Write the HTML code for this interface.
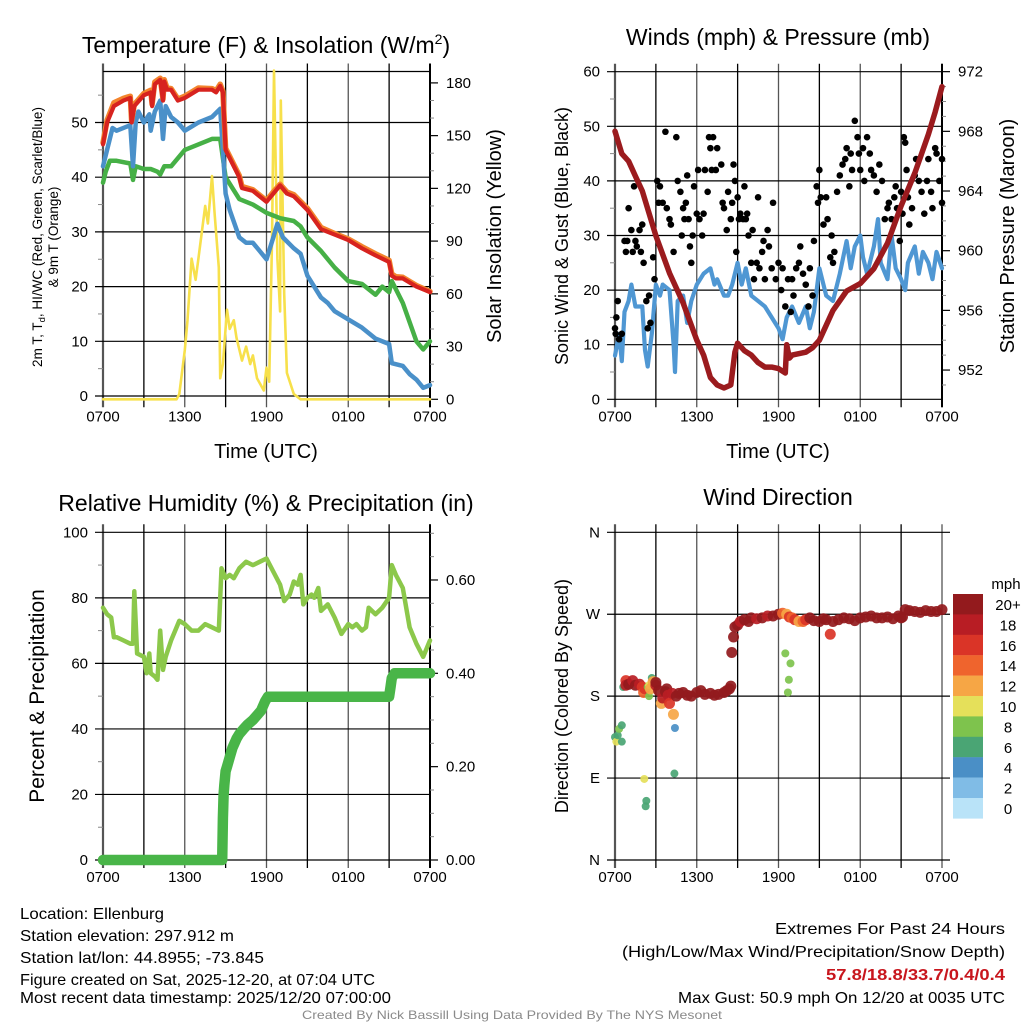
<!DOCTYPE html>
<html><head><meta charset="utf-8"><style>
html,body{margin:0;padding:0;background:#fff;}
svg{display:block;font-family:"Liberation Sans",Arial,sans-serif;}
</style></head><body>
<svg id="c" width="1024" height="1024" viewBox="0 0 1024 1024" xmlns="http://www.w3.org/2000/svg"></svg>
<script>
// ---------- data (hours since 0700 UTC) ----------
const xTickLabels = ["0700","1300","1900","0100","0700"];
const tempH   = [0,0.3,0.8,1.5,2.0,2.1,2.3,3,3.5,3.6,3.8,4.2,4.4,4.5,4.7,5,5.5,6,7,8,8.3,8.6,8.8,9,9.5,10,10.2,11,12,12.5,13,13.5,14,15,16,17,18,19,20,21,21.2,21.5,22,23,24];
const tempRed = [46,50,53,54,54.5,50,53,55,55.5,53,57,57.8,54,57.5,56,56,54,54.5,56,56,55.5,56.7,55.5,45,42.5,40,38,37.5,35.5,37,38.5,37,36.5,34,30.5,29.5,28.5,27,25.7,24.5,22,21.5,21.5,20,19];
const temp9m  = [46.3,50.4,53.6,54.4,54.8,50.3,53.3,55.3,55.9,53.3,57.4,58.1,54.3,57.8,56.3,56.2,54.3,54.8,56.3,56.2,55.8,57,55.7,45.3,42.8,40.3,38.3,37.7,35.7,37.3,38.7,37.3,36.8,34.3,30.8,29.7,28.7,27.3,26,24.8,22.3,21.8,21.7,20.2,19.1];
const dewH    = [0,0.5,0.7,1,2,2.2,2.4,2.6,3,3.4,3.5,3.8,4.2,4.4,4.6,5,5.5,6,7,8,8.6,8.8,9,9.3,10,10.5,11,11.5,12,12.5,12.8,13.2,14,14.5,15,16,16.5,17,18,19,20,21,21.2,22,22.5,23,23.5,24];
const dewBlue = [42,47,49,48.5,49.5,42,50,52,50,51.5,48.5,52,54,47,53,51,50,48.5,50,51,52.5,45,37,34,29,28,28,26.5,25,29,31.5,29,27,26,22,18,17,15.5,14,12.5,10.5,9.5,6,5.5,4,3,1.5,2];
const hiwcH   = [0,0.2,0.5,1,2,2.2,2.4,3,3.5,4,4.2,4.5,5,6,7,8,8.6,9,9.5,10,11,12,12.5,13,14,14.5,15,16,17,18,19,20,20.5,21,21.2,21.5,22,23,23.5,24];
const hiwcGreen=[39,41,43,43,42.5,39.5,42,41.5,41.5,41,40.5,42,42,45,46,47,47,40,38,36,35,33.5,33,32.5,32,31,29,26.5,23.5,21,20.5,18.5,20,19,21,19.5,17,10,8.5,10];
const solarH  = [0,5.4,5.6,6,6.2,6.5,6.8,7,7.5,7.7,8,8.2,8.5,8.6,8.8,9.1,9.3,9.6,9.8,10.2,10.5,10.8,11,11.3,11.8,12,12.2,12.4,12.55,12.8,13,13.05,13.3,13.5,14,14.5,24];
const solarVal= [0,0,3,28,45,80,68,80,110,100,127,105,75,12,20,51,40,45,35,22,30,20,25,12,5,18,10,90,187,80,50,170,60,15,3,0,0];

const presH   = [0,0.5,1,1.5,2,3,4,5,6,6.5,7,7.5,8,8.5,8.8,9,9.5,10,10.5,11,11.5,12,12.5,12.6,12.8,13,14,14.5,15,15.5,16,17,18,19,20,21,22,23,23.5,24];
const presVal = [968,966.5,966,965,964,961,958.5,956.5,954,953,951.5,951,950.8,951,953.2,953.8,953.3,953,952.5,952.2,952.2,952.1,951.8,953.7,952.8,953,953.2,953.5,954,955,956,957.3,957.8,958.8,960.5,963,965.2,967.8,969.3,971];
const windH   = [0,0.3,0.5,0.7,1,1.2,1.5,2,2.2,2.4,2.7,3,3.3,3.5,4,4.3,4.4,4.6,5,5.3,5.6,6,6.5,7,7.3,7.5,8,8.3,8.6,9,9.3,9.6,10,10.5,11,11.5,12,12.3,12.6,13,13.5,14,14.3,14.6,15,15.5,16,16.5,17,17.3,17.6,18,18.2,18.5,19,19.3,19.5,20,20.3,20.6,21,21.3,21.5,22,22.3,22.6,23,23.3,23.6,24];
const windVal = [8,12,7,16,18,21,17,17,9,6,12,21,19,21,20,10,5,18,19,14,18,21,23,24,21,22,19,19,21,25,21,24,19,18,17,15,13,11,15,17,14,17,13,16,24,19,18,23,29,24,28,30,26,23,28,33,25,22,30,24,22,20,25,28,23,27,25,22,27,24];
const gustH   = [0,0.05,0.1,0.2,0.3,0.5,0.7,0.8,0.9,1,1.2,1.3,1.4,1.5,1.6,1.8,1.9,2,2.1,2.3,2.4,2.5,2.6,2.8,2.9,3.1,3.2,3.3,3.5,3.7,3.8,4,4.1,4.3,4.5,4.6,4.8,4.9,5,5.1,5.2,5.3,5.4,5.5,5.6,5.7,5.8,6,6.1,6.2,6.4,6.5,6.6,6.8,6.9,7,7.1,7.2,7.4,7.5,7.8,7.9,8,8.2,8.3,8.5,8.6,8.7,8.8,8.9,9,9.1,9.2,9.4,9.5,9.6,9.7,9.8,10,10.1,10.2,10.4,10.5,10.6,10.8,10.9,11,11.2,11.3,11.5,11.6,11.8,12,12.2,12.3,12.5,12.7,12.9,13,13.1,13.3,13.5,13.6,13.8,14,14.2,14.3,14.5,14.6,14.8,14.9,15,15.1,15.3,15.5,15.6,15.8,15.9,16,16.1,16.3,16.5,16.7,16.9,17,17.2,17.3,17.4,17.6,17.8,17.9,18,18.2,18.3,18.5,18.7,18.8,19,19.2,19.4,19.6,19.8,20,20.1,20.3,20.5,20.6,20.7,20.9,21,21.1,21.2,21.3,21.4,21.5,21.6,21.8,22,22.1,22.3,22.5,22.7,22.9,23,23.2,23.3,23.5,23.6,23.8,24,24];
const gustVal = [13,12,15,18,11,12,29,27,29,35,31,27,39,29,28,31,27,32,25,18,13,19,14,26,22,40,36,39,36,49,35,33,32,27,48,40,38,30,35,33,36,41,33,28,25,30,39,34,42,33,30,34,42,38,48,46,42,48,42,46,43,36,35,31,38,33,36,43,40,27,37,33,34,33,39,33,34,30,25,31,22,25,37,24,27,29,22,31,28,24,36,22,25,20,24,17,22,16,22,19,24,25,28,23,21,17,24,19,29,39,36,42,37,32,37,33,26,30,25,27,38,41,43,44,46,39,45,42,51,48,45,42,46,40,48,45,42,41,38,43,40,33,35,36,33,37,39,35,29,38,34,48,47,42,37,32,35,41,44,40,38,34,40,44,38,35,46,45,40,44,36];

const rhH     = [0,0.3,0.6,0.8,1,1.5,2,2.2,2.3,2.5,3,3.2,3.4,3.5,3.8,4,4.2,4.4,4.6,5,5.3,5.6,6,6.5,7,7.5,8,8.5,8.7,9,9.3,9.6,10,10.5,11,11.5,12,12.5,13,13.3,13.7,14,14.3,14.5,14.7,15,15.3,15.5,15.8,16,16.5,17,17.5,18,18.3,18.6,19,19.3,19.5,20,20.5,21,21.2,21.5,22,22.5,23,23.5,24];
const rhVal   = [77,75,74,68,68,67,66,66,82,63,62,57,63,57,56,55,70,58,62,67,70,73,72,70,70,72,71,70,89,86,87,86,89,91,90,91,92,88,84,79,81,85,84,87,78,80,81,80,83,76,78,74,69,72,71,72,70,71,77,75,77,80,90,87,83,71,66,62,67];
const precipH = [0,8.75,8.8,8.85,8.9,9,9.1,9.3,9.5,9.8,10,10.3,10.6,11,11.3,11.6,11.9,12.1,21,21.1,21.2,21.4,24];
const precipVal=[0,0,0.09,0.14,0.16,0.19,0.2,0.22,0.24,0.26,0.27,0.28,0.29,0.30,0.31,0.32,0.34,0.35,0.35,0.37,0.39,0.40,0.40];

const dirH    = [0,0.1,0.2,0.3,0.5,0.5,0.6,0.8,0.8,1,1.3,1.5,1.8,2,2.1,2.2,2.15,2.4,2.25,2.3,2.5,2.5,2.6,2.7,2.8,3,3,3.2,3.4,3.5,3.7,3.8,3.9,4,4.2,4.29,4.4,4.36,4.5,4.7,5,5.3,5.6,6,6.3,6.6,7,7.3,7.6,8,8.2,8.4,8.5,8.57,8.7,8.8,9,9.2,9.5,9.8,10,10.4,10.8,11.2,11.6,12,12.3,12.6,12.69,12.76,12.88,12.5,12.8,13,13.2,13.5,13.8,14,14.3,14.6,15,15.3,15.5,15.8,16,16.4,16.8,17.2,17.6,18,18.4,18.8,19.2,19.6,20,20.4,20.8,21,21.1,21.3,21.6,22,22.4,22.8,23.2,23.6,24];
const dirVal  = [135,130,137,144,148,130,190,197,192,193,197,192,193,190,184,188,89,190,59,65,180,192,188,200,196,192,195,186,172,178,185,188,181,172,183,160,145,95,180,183,184,181,180,184,186,182,183,181,182,184,186,188,191,228,245,256,258,262,264,262,266,265,266,268,268,270,271,270,184,198,216,227,267,266,264,262,262,264,266,263,262,265,264,248,262,264,266,265,263,266,267,268,266,266,267,265,268,266,267,275,274,273,272,274,273,273,275,274,273];
const dirSpd  = [7,10,6,8,6,6,6,16,18,20,18,20,18,16,14,16,10,8,6,6,8,10,12,6,12,18,20,20,12,18,20,20,18,16,18,12,4,6,20,20,20,20,20,20,20,20,20,20,20,20,20,20,20,20,20,20,20,18,20,20,20,18,20,18,20,20,14,12,8,8,8,8,16,14,16,12,14,16,20,20,20,20,20,16,20,20,20,20,20,20,20,20,20,20,20,20,20,20,20,20,20,20,20,20,20,20,20,20];
const spdLabels = ["20+","18","16","14","12","10","8","6","4","2","0"];
const spdColors = ["#931a1d","#b81d24","#da3427","#ef642d","#f6a645","#e5e05a","#7ec34d","#4aa574","#4a8fc6","#80bce6","#b9e3f8"];

// ---------- helpers ----------
const svg = document.getElementById('c');
const NS = "http://www.w3.org/2000/svg";
function mk(tag, attrs, parent){
  const e = document.createElementNS(NS, tag);
  for (const k in attrs) e.setAttribute(k, attrs[k]);
  (parent||svg).appendChild(e);
  return e;
}
function txt(s, x, y, size, anchor, extra){
  const t = mk('text', Object.assign({x:x, y:y, 'font-size':size, 'text-anchor':anchor||'start', fill:'#000'}, extra||{}));
  t.textContent = s;
  return t;
}
function pts(xs, ys, fx, fy){ return xs.map((h,i)=>fx(h).toFixed(1)+','+fy(ys[i]).toFixed(1)).join(' '); }

const L = 103, R = 430, W = R - L;
function xs(off){ return h => off + L + h * W / 24; }

function frame(off, top, bot, yTicks, yFn, opts){
  const g = mk('g', {});
  
  
  const fx = xs(off);
  for (let i=0;i<=8;i++){
    const x = fx(i*3);
    mk('line', {x1:x, y1:top-8, x2:x, y2:bot+8, stroke: i%2 ? '#000' : '#555', 'stroke-width': i===0?2.2:1.3}, g);
  }
  yTicks.forEach(v=>{
    const y = yFn(v);
    mk('line', {x1:off+95, y1:y, x2:off+R+(opts.rightGridExt||0), y2:y, stroke:'#000', 'stroke-width':1.2}, g);
  });
  (opts.minor||[]).forEach(v=>{
    const y = yFn(v);
    mk('line', {x1:off+98, y1:y, x2:off+L, y2:y, stroke:'#888', 'stroke-width':1}, g);
  });
  if (opts.topLine) mk('line', {x1:off+L, y1:top, x2:off+R, y2:top, stroke:'#000','stroke-width':1.2}, g);
  if (opts.rightAxis) mk('line', {x1:off+R, y1:top-8, x2:off+R, y2:bot+8, stroke:'#000','stroke-width':2}, g);
  xTickLabels.forEach((s,i)=>{
    const t = txt(s, fx(i*6), bot+22, 15, 'middle');
    
    
  });
}
function rightTicks(off, vals, yFn, labels, minor){
  const g = mk('g', {});
  
  
  vals.forEach((v,i)=>{
    const y = yFn(v);
    mk('line', {x1:off+R, y1:y, x2:off+R+8, y2:y, stroke:'#000','stroke-width':1.2}, g);
    const t = txt(labels[i], off+R+16, y+5, 15, 'start');
    
    
  });
  (minor||[]).forEach(v=>{
    const y = yFn(v);
    mk('line', {x1:off+R, y1:y, x2:off+R+4, y2:y, stroke:'#888','stroke-width':1}, g);
  });
}
function leftLabels(off, vals, yFn, labels){
  vals.forEach((v,i)=>{
    const t = txt(labels[i], off+88, yFn(v)+5, 15, 'end');
    
    
  });
}
function rot(s, x, y, size, name){
  const t = txt(s, x, y, size, 'middle', {transform:'rotate(-90 '+x+' '+y+')'});
  
  
  return t;
}
function line(xsArr, ysArr, fx, fy, color, w, name){
  const p = mk('polyline', {points: pts(xsArr, ysArr, fx, fy), fill:'none', stroke:color, 'stroke-width':w, 'stroke-linejoin':'round', 'stroke-linecap':'round'});
  
  
  return p;
}

// ---------- Panel 1: temperature ----------
{
  const top = 71.5, bot = 399.3;
  const fx = xs(0);
  const fy = v => 396 - v*5.47;
  const fs = v => 399.3 - v*1.7578;
  frame(0, top, bot, [0,10,20,30,40,50], fy, {name:'temp', topLine:true, rightAxis:true, minor:[5,15,25,35,45,55]});
  leftLabels(0, [0,10,20,30,40,50], fy, ["0","10","20","30","40","50"]);
  rightTicks(0, [0,30,60,90,120,150,180], fs, ["0","30","60","90","120","150","180"], [10,20,40,50,70,80,100,110,130,140,160,170]);
  line(solarH, solarVal, fx, fs, '#f7e04b', 2.6, 'solar-insolation-line');
  line(hiwcH, hiwcGreen, fx, fy, '#46b046', 4.5, 'hi-wc-line');
  line(dewH, dewBlue, fx, fy, '#4a90c9', 4.5, 'dewpoint-line');
  line(tempH, temp9m, fx, fy, '#f3842d', 5.5, 'temp-9m-line');
  line(tempH, tempRed, fx, fy, '#d7231f', 4.2, 'temp-2m-line');
  const t = mk('text', {x:266, y:53, 'font-size':23, 'text-anchor':'middle'});
  t.innerHTML = 'Temperature (F) &amp; Insolation (W/m<tspan dy="-9" font-size="14">2</tspan><tspan dy="9">)</tspan>';
  
  
  const a = mk('text', {x:42, y:237, 'font-size':13.5, 'text-anchor':'middle', transform:'rotate(-90 42 237)'});
  a.innerHTML = '2m T, T<tspan dy="3" font-size="9.5">d</tspan><tspan dy="-3">, HI/WC (Red, Green, Scarlet/Blue)</tspan>';
  
  
  rot('& 9m T (Orange)', 58, 237, 13.5, 'temp-y-axis-title-2');
  rot('Solar Insolation (Yellow)', 501, 236, 20, 'solar-y-axis-title');
  const xt = txt('Time (UTC)', 266, 458, 20, 'middle');
  
  
}

// ---------- Panel 2: winds ----------
{
  const off = 512, top = 71.7, bot = 399.3;
  const fx = xs(off);
  const fy = v => 399.3 - v*5.46;
  const fp = v => 399.3 - (v-950.04)*14.92;
  frame(off, top, bot, [0,10,20,30,40,50,60], fy, {name:'wind', rightAxis:true, minor:[5,15,25,35,45,55]});
  leftLabels(off, [0,10,20,30,40,50,60], fy, ["0","10","20","30","40","50","60"]);
  rightTicks(off, [952,956,960,964,968,972], fp, ["952","956","960","964","968","972"], [951,953,954,955,957,958,959,961,962,963,965,966,967,969,970,971]);
  line(windH, windVal, fx, fy, '#4f97d3', 4.2, 'sonic-wind-line');
  const g = mk('g', {fill:'#000'});
  
  
  gustH.forEach((h,i)=>{
    const c = mk('circle', {cx:fx(h), cy:fy(gustVal[i]), r:3.3}, g);
    
    
  });
  line(presH, presVal, fx, fp, '#9b1b1e', 5.5, 'pressure-line');
  const t = txt('Winds (mph) & Pressure (mb)', 778, 45, 23, 'middle');
  
  
  rot('Sonic Wind & Gust (Blue, Black)', 568, 236, 18, 'wind-y-axis-title');
  rot('Station Pressure (Maroon)', 1014, 236, 20, 'pressure-y-axis-title');
  const xt = txt('Time (UTC)', 778, 458, 20, 'middle');
  
  
}

// ---------- Panel 3: RH & precip ----------
{
  const top = 532.3, bot = 860;
  const fx = xs(0);
  const fy = v => 860 - v*3.277;
  const fp = v => 860 - v*466.7;
  frame(0, top, bot, [0,20,40,60,80,100], fy, {name:'rh', rightAxis:true, minor:[10,30,50,70,90]});
  leftLabels(0, [0,20,40,60,80,100], fy, ["0","20","40","60","80","100"]);
  rightTicks(0, [0,0.2,0.4,0.6], fp, ["0.00","0.20","0.40","0.60"], [0.05,0.1,0.15,0.25,0.3,0.35,0.45,0.5,0.55,0.65,0.7]);
  line(rhH, rhVal, fx, fy, '#8cc84b', 4.5, 'rh-line');
  line(precipH, precipVal, fx, fp, '#49b548', 10.5, 'precip-line');
  const t = txt('Relative Humidity (%) & Precipitation (in)', 266, 511, 23, 'middle');
  
  
  rot('Percent & Precipitation', 44, 696, 21, 'rh-y-axis-title');
}

// ---------- Panel 4: wind direction ----------
{
  const off = 512, top = 532.3, bot = 860;
  const fx = xs(off);
  const fy = v => 860 - v*0.9103;
  frame(off, top, bot, [0,90,180,270,360], fy, {name:'dir', rightGridExt:8});
  leftLabels(off, [0,90,180,270,360], fy, ["N","E","S","W","N"]);
  const g = mk('g', {'fill-opacity':0.92});
  
  
  dirH.forEach((h,i)=>{
    const s = dirSpd[i];
    const idx = s >= 20 ? 0 : 10 - Math.floor(s/2);
    const c = mk('circle', {cx:fx(h), cy:fy(dirVal[i]), r: s>=12 ? 5.5 : 4, fill: spdColors[idx]}, g);
    
    
  });
  const t = txt('Wind Direction', 778, 505, 23, 'middle');
  
  
  rot('Direction (Colored By Speed)', 568, 696, 18, 'dir-y-axis-title');
  const lg = mk('g', {});
  
  
  const mt = txt('mph', 1006, 589, 15, 'middle');
  
  
  spdLabels.forEach((s,i)=>{
    const r = mk('rect', {x:953, y:594 + i*20.4, width:30, height:20.6, fill:spdColors[i]}, lg);
    
    
    const lt = txt(s, 1008, 594 + i*20.4 + 16, 15, 'middle');
    
    
  });
}

// ---------- footer ----------
const leftLines = [["Location: Ellenburg",919,144],["Station elevation: 297.912 m",941,214],["Station lat/lon: 44.8955; -73.845",963,244],["Figure created on Sat, 2025-12-20, at 07:04 UTC",985,355],["Most recent data timestamp: 2025/12/20 07:00:00",1003,371]];
leftLines.forEach(l=>{
  const t = txt(l[0], 20, l[1], 16, 'start', {textLength:l[2], lengthAdjust:'spacingAndGlyphs'});
  
  
});
const rightLines = [["Extremes For Past 24 Hours",934,230,'#000','normal'],["(High/Low/Max Wind/Precipitation/Snow Depth)",957,383,'#000','normal'],["57.8/18.8/33.7/0.4/0.4",980,179,'#c8161d','bold'],["Max Gust: 50.9 mph On 12/20 at 0035 UTC",1003,327,'#000','normal']];
rightLines.forEach(l=>{
  const t = txt(l[0], 1005, l[1], 16, 'end', {textLength:l[2], lengthAdjust:'spacingAndGlyphs', fill:l[3], 'font-weight':l[4]});
  
  
});
const cr = txt('Created By Nick Bassill Using Data Provided By The NYS Mesonet', 512, 1019, 12, 'middle', {fill:'#8a8a8a', textLength:420, lengthAdjust:'spacingAndGlyphs'});


</script>
</body></html>
